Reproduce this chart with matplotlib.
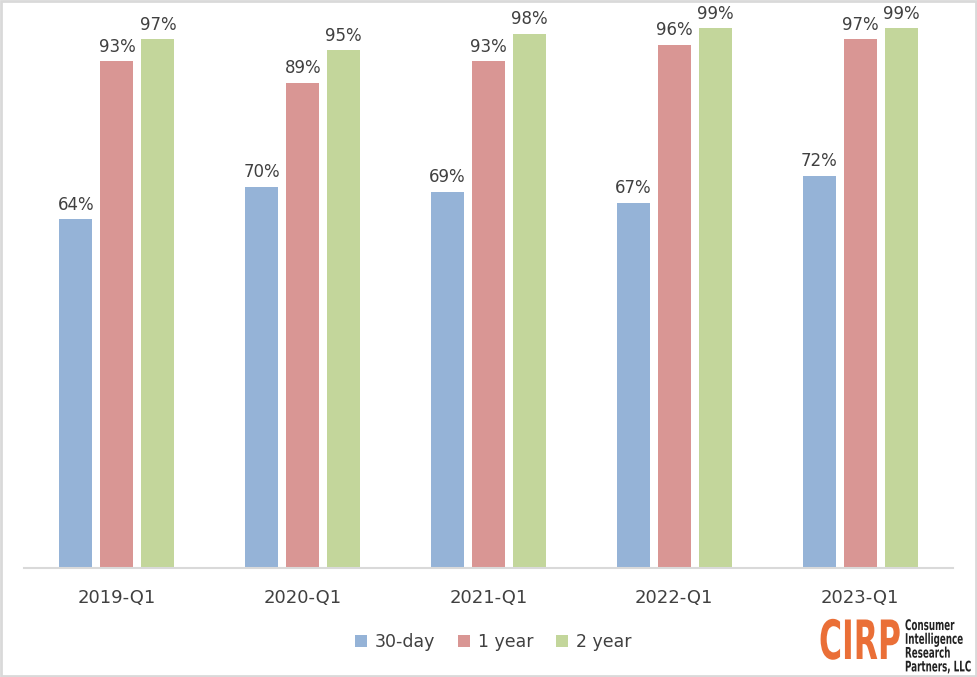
import numpy as np
import matplotlib
matplotlib.use("Agg")
import matplotlib.pyplot as plt
from matplotlib import patheffects
from matplotlib.patches import Rectangle
from matplotlib.text import Text
from matplotlib.transforms import Affine2D, Bbox

quarters = ["2019-Q1", "2020-Q1", "2021-Q1", "2022-Q1", "2023-Q1"]
series_names = ["30-day", "1 year", "2 year"]
day30 = [64, 70, 69, 67, 72]
year1 = [93, 89, 93, 96, 97]
year2 = [97, 95, 98, 99, 99]

COLORS = ["#95B3D7", "#D99694", "#C3D69B"]
TEXT = "#404040"
GRID = "#D9D9D9"
ORANGE = "#EA6F37"
LOGO_LINES = ["Consumer", "Intelligence", "Research", "Partners, LLC"]

W, H = 977, 677


class Squash(patheffects.AbstractPathEffect):
    """narrow the glyphs horizontally"""

    def __init__(self, sx):
        super().__init__()
        self.sx = sx

    def draw_path(self, renderer, gc, tpath, affine, rgbFace=None):
        renderer.draw_path(gc, tpath, Affine2D().scale(self.sx, 1) + affine,
                           rgbFace)


class NarrowText(Text):
    """left-aligned text drawn squashed; extent reports the squashed box"""

    def __init__(self, *args, sx=0.6, **kw):
        super().__init__(*args, ha="left", path_effects=[Squash(sx)], **kw)
        self.sx = sx

    def get_window_extent(self, renderer=None, dpi=None):
        bb = super().get_window_extent(renderer, dpi)
        return Bbox.from_extents(bb.x0, bb.y0, bb.x0 + bb.width * self.sx,
                                 bb.y1)


def fx(px):
    return px / W


def fy(py):
    return 1 - py / H


fig = plt.figure(figsize=(W / 100, H / 100), dpi=100)
plt.rcParams["font.family"] = ["DejaVu Sans"]

# plot area: x 24..953, baseline y=568, 100% at y=23
ax = fig.add_axes([fx(24), fy(568), fx(953 - 24), (568 - 23) / H])
ax.set_xlim(-0.5, len(quarters) - 0.5)
ax.set_ylim(0, 100)

x = np.arange(len(quarters))
step = 41 / 185.8
width = 33 / 185.8
for i, (vals, name) in enumerate(zip([day30, year1, year2], series_names)):
    bars = ax.bar(x + (i - 1) * step, vals, width, color=COLORS[i],
                  label=name, zorder=2)
    ax.bar_label(bars, labels=[f"{v}%" for v in vals], padding=4,
                 fontsize=12, color=TEXT, clip_on=False)

for s in ["left", "right", "top"]:
    ax.spines[s].set_visible(False)
ax.spines["bottom"].set_color(GRID)
ax.spines["bottom"].set_linewidth(1.5)
ax.set_yticks([])
ax.set_xticks(x)
ax.set_xticklabels(quarters, fontsize=13, color=TEXT)
ax.tick_params(axis="x", length=0, pad=15)

fig.legend(loc="center", bbox_to_anchor=(fx(493), fy(642)), ncol=3,
           frameon=False, fontsize=12.5, handlelength=0.7, handleheight=0.7,
           handletextpad=0.45, columnspacing=1.3, labelcolor=TEXT)

# outer border
fig.patches.append(Rectangle((0.001, 0.001), 0.998, 0.997,
                             transform=fig.transFigure, fill=False,
                             edgecolor=GRID, linewidth=2))

# logo
fig.add_artist(NarrowText(fx(819), fy(659), "CIRP", sx=0.58,
                          transform=fig.transFigure, fontsize=39,
                          fontweight="bold", color=ORANGE, va="baseline"))
fig.add_artist(NarrowText(fx(905), fy(618), "\n".join(LOGO_LINES), sx=0.6,
                          transform=fig.transFigure, fontsize=10.5,
                          fontweight="bold", color="#222222", va="top",
                          linespacing=0.9))

fig.savefig("out.png", dpi=100)
